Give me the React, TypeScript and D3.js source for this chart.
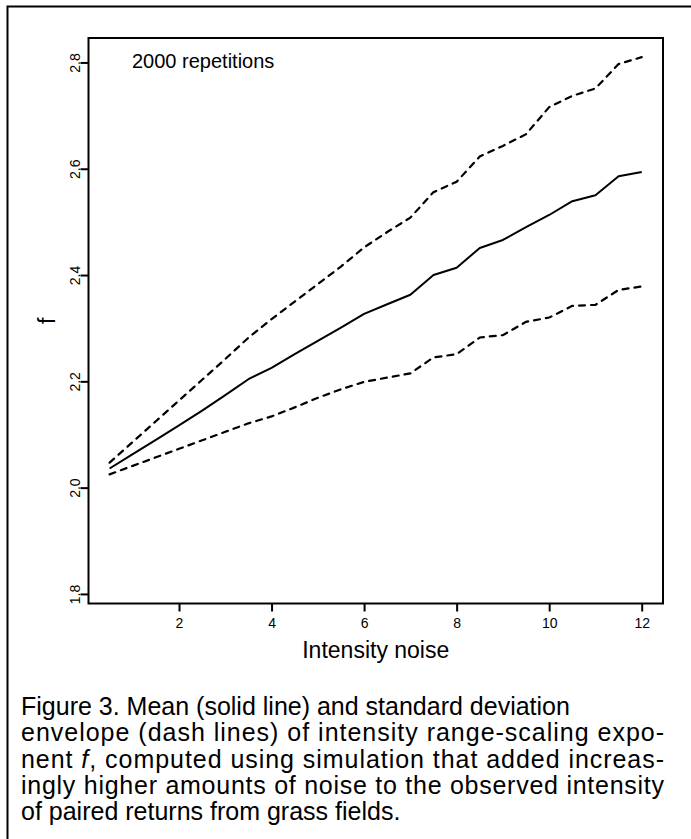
import React, { useEffect, useRef } from 'react'
import * as d3 from 'd3'

// noise level (x) and the simulated exponent f: mean and +/- 1 sd envelope
const noiseLevels = [0.5, 1, 1.5, 2, 2.5, 3, 3.5, 4, 4.5, 5, 5.5, 6, 6.5, 7, 7.5, 8, 8.5, 9, 9.5, 10, 10.5, 11, 11.5, 12]
const meanF = [2.036, 2.063, 2.090, 2.117, 2.145, 2.174, 2.204, 2.2255, 2.251, 2.276, 2.301, 2.327, 2.345, 2.363, 2.400, 2.4136, 2.451, 2.466, 2.490, 2.513, 2.539, 2.550, 2.586, 2.594]
const upperF = [2.047, 2.086, 2.125, 2.164, 2.203, 2.242, 2.282, 2.317, 2.350, 2.383, 2.416, 2.452, 2.481, 2.508, 2.556, 2.5755, 2.623, 2.643, 2.665, 2.716, 2.737, 2.751, 2.797, 2.810]
const lowerF = [2.025, 2.041, 2.057, 2.073, 2.089, 2.105, 2.121, 2.134, 2.151, 2.169, 2.185, 2.199, 2.207, 2.215, 2.245, 2.251, 2.2825, 2.287, 2.312, 2.320, 2.342, 2.344, 2.372, 2.3785]

const xTicks = [2, 4, 6, 8, 10, 12]
const yTicks = [1.8, 2.0, 2.2, 2.4, 2.6, 2.8]

const captionLines = [
  ['Figure 3. Mean (solid line) and standard deviation'],
  ['envelope (dash lines) of intensity range-scaling expo-'],
  ['nent ', 'f', ', computed using simulation that added increas-'],
  ['ingly higher amounts of noise to the observed intensity'],
  ['of paired returns from grass fields.'],
]
// lines that are set flush to the right edge
const justified = [false, true, true, true, false]

const font = 'Liberation Sans, Arial, sans-serif'

export default function App() {
  const svgRef = useRef<SVGSVGElement>(null)

  useEffect(() => {
    if (!svgRef.current) return
    const svg = d3.select(svgRef.current)
    svg.selectAll('*').remove()

    const left = 88.5, right = 663, top = 38, bottom = 603.5
    const x = d3.scaleLinear().domain([0.044, 12.46]).range([left, right])
    const y = d3.scaleLinear().domain([1.782, 2.846]).range([bottom, top])

    // outer frame, cut off at right and bottom
    svg.append('path')
      .attr('d', 'M7.5,845V6.5H700')
      .attr('fill', 'none')
      .attr('stroke', '#000')
      .attr('stroke-width', 2)

    // x axis
    const gx = svg.append('g')
      .attr('transform', `translate(0,${bottom})`)
      .call(d3.axisBottom(x).tickValues(xTicks).tickSize(8).tickSizeOuter(0).tickFormat(d3.format('d')))
      .attr('font-size', 14)
      .attr('font-family', font)
    gx.select('.domain').remove()
    gx.selectAll('line').attr('stroke', '#000').attr('stroke-width', 2)
    gx.selectAll('text').attr('y', 24).attr('dy', 0).attr('fill', '#000')

    // y axis, labels turned like R's default
    const gy = svg.append('g')
      .attr('transform', `translate(${left},0)`)
      .call(d3.axisLeft(y).tickValues(yTicks).tickSize(8).tickSizeOuter(0).tickFormat(d3.format('.1f')))
      .attr('font-size', 14)
      .attr('font-family', font)
    gy.select('.domain').remove()
    gy.selectAll('line').attr('stroke', '#000').attr('stroke-width', 2)
    gy.selectAll('text')
      .attr('x', 0)
      .attr('y', -9)
      .attr('dy', 0)
      .attr('transform', 'rotate(-90)')
      .attr('text-anchor', 'middle')
      .attr('fill', '#000')

    // plot box
    svg.append('rect')
      .attr('x', left).attr('y', top)
      .attr('width', right - left).attr('height', bottom - top)
      .attr('fill', 'none')
      .attr('stroke', '#000')
      .attr('stroke-width', 2)

    const line = d3.line<number>()
      .x((d, i) => x(noiseLevels[i]))
      .y(d => y(d))

    svg.append('path')
      .attr('d', line(meanF))
      .attr('fill', 'none')
      .attr('stroke', '#000')
      .attr('stroke-width', 2)
      .attr('stroke-linejoin', 'round')

    ;[upperF, lowerF].forEach(s => {
      svg.append('path')
        .attr('d', line(s))
        .attr('fill', 'none')
        .attr('stroke', '#000')
        .attr('stroke-width', 2.2)
        .attr('stroke-dasharray', '6,6')
        .attr('stroke-linecap', 'round')
    })

    svg.append('text')
      .attr('x', 132).attr('y', 68)
      .attr('font-family', font).attr('font-size', 20)
      .text('2000 repetitions')

    svg.append('text')
      .attr('x', (left + right) / 2).attr('y', 658)
      .attr('text-anchor', 'middle')
      .attr('font-family', font).attr('font-size', 23)
      .text('Intensity noise')

    svg.append('text')
      .attr('transform', `translate(55,${(top + bottom) / 2}) rotate(-90)`)
      .attr('text-anchor', 'middle')
      .attr('font-family', font).attr('font-size', 23)
      .text('f')

    // caption
    const capLeft = 21, capRight = 664
    const cap = svg.append('g').attr('font-family', font).attr('font-size', 25)
    captionLines.forEach((parts, i) => {
      const t = cap.append('text').attr('x', capLeft).attr('y', 715 + i * 26.3)
      parts.forEach(p => {
        t.append('tspan')
          .attr('font-style', p === 'f' ? 'italic' : 'normal')
          .text(p)
      })
      if (justified[i]) {
        // spread the slack over the letters, not only the word gaps
        t.attr('textLength', capRight - capLeft).attr('lengthAdjust', 'spacing')
      }
    })
  }, [])

  return (
    <svg
      ref={svgRef}
      width={691}
      height={839}
      style={{ position: 'absolute', left: 0, top: 0, background: '#fff' }}
    />
  )
}
